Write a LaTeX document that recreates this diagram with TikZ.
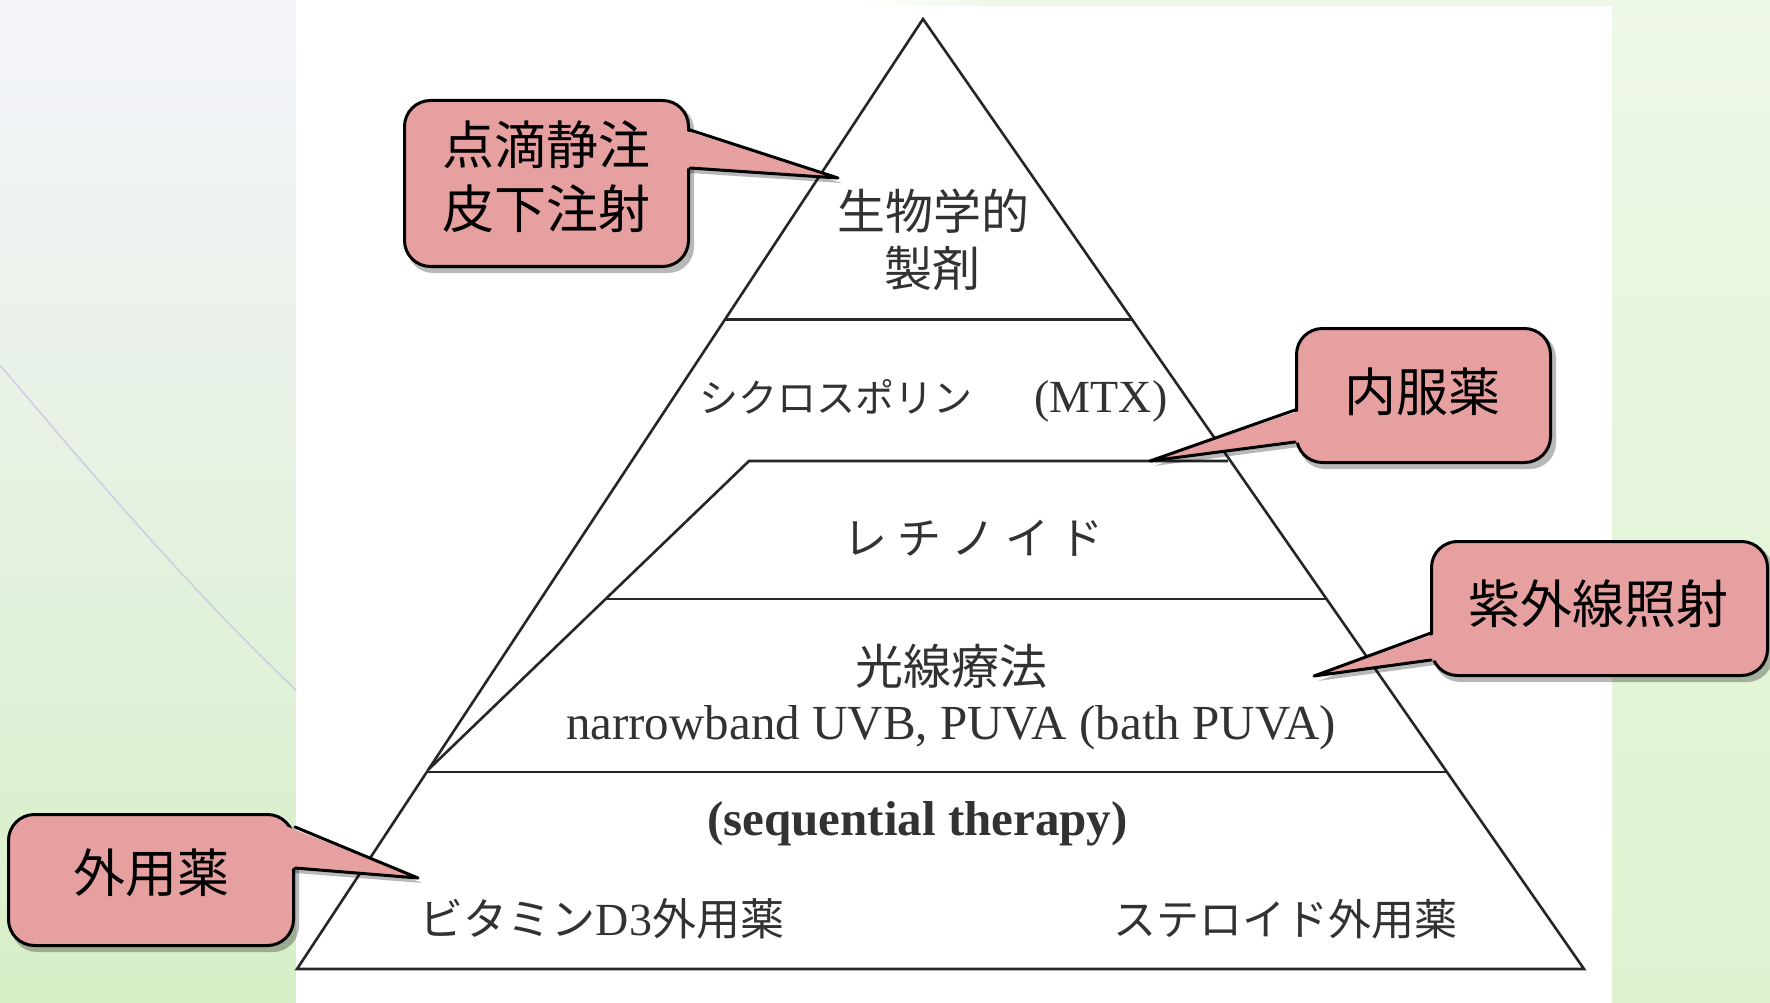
\documentclass[tikz,border=0pt]{standalone}
\usepackage{fontspec}
\setmainfont{Liberation Serif}
\newfontfamily\jp{Noto Sans CJK JP}
\usetikzlibrary{calc}
\definecolor{pinkfill}{RGB}{231,160,160}
\definecolor{inkgray}{RGB}{50,50,50}
\definecolor{linegray}{RGB}{38,38,38}
\definecolor{bgtop}{RGB}{244,244,251}
\definecolor{bgmid}{RGB}{246,250,244}
\definecolor{bgbot}{RGB}{214,239,198}
\definecolor{bgrtop}{RGB}{238,248,230}
\definecolor{bgrbot}{RGB}{222,242,208}
\definecolor{curvec}{RGB}{205,205,228}
\begin{document}
\begin{tikzpicture}[x=1pt,y=-1pt,
  tri/.style={draw=linegray, line width=2.6pt, line join=miter},
  callbox/.style={draw=black, line width=3pt, fill=pinkfill, rounded corners=26pt, inner sep=0pt},
  shadowfill/.style={fill=black, opacity=0.28},
  ptrline/.style={draw=black, line width=3pt, line join=round, line cap=round},
  trijp/.style={inner sep=0pt, anchor=base, text=inkgray, font=\jp},
  trilat/.style={inner sep=0pt, anchor=base, text=inkgray},
  caltext/.style={inner sep=0pt, anchor=base, text=black, font=\jp\fontsize{52}{60}\selectfont}
]
\useasboundingbox (0,0) rectangle (1770,1003);
% background
\shade[top color=bgtop, middle color=bgmid, bottom color=bgbot] (0,0) rectangle (296,1003);
\shade[top color=bgrtop, bottom color=bgrbot] (1612,0) rectangle (1770,1003);
\fill[white] (296,0) rectangle (1612,1003);
\shade[left color=white, right color=bgrtop] (860,0) rectangle (1000,6);
\fill[bgrtop] (1000,0) rectangle (1612,6);
\draw[curvec, line width=1.5pt] (0,365) .. controls (80,460) and (190,590) .. (296,690);

% pyramid
\coordinate (apex) at (923,19);
\coordinate (bl) at (297,969);
\coordinate (br) at (1584,969);
\draw[tri] (apex) -- (bl) -- (br) -- cycle;
\coordinate (l1a) at (725,319.5); \coordinate (l1b) at (1132,319.5);
\coordinate (l2a) at (749,461);   \coordinate (l2b) at (1228,461);
\coordinate (l3a) at (606,599);   \coordinate (l3b) at (1327,599);
\coordinate (l4a) at (427,772);   \coordinate (l4b) at (1447,772);
\coordinate (inb) at (429,769);
\draw[tri] (l1a) -- (l1b);
\draw[tri] (l2b) -- (l2a) -- (inb);
\draw[tri] (l3a) -- (l3b);
\draw[tri] (l4a) -- (l4b);

% pyramid texts
\node[trijp, font=\jp\fontsize{48}{56}\selectfont] (bio1) at (933,230) {生物学的};
\node[trijp, font=\jp\fontsize{48}{56}\selectfont] (bio2) at (932,287) {製剤};
\node[trilat] (cyc) at (933.5,412) {{\jp\fontsize{39}{46}\selectfont シクロスポリン}\hspace{62pt}{\fontsize{46}{54}\selectfont (MTX)}};
\node[trijp, font=\jp\fontsize{44}{52}\selectfont] (ret) at (973.5,554) {レ\hspace{10pt}チ\hspace{10pt}ノ\hspace{10pt}イ\hspace{10pt}ド};
\node[trijp, font=\jp\fontsize{48}{56}\selectfont] (photo) at (951.5,684) {光線療法};
\node[trilat, font=\fontsize{49}{56}\selectfont] (uvb) at (951,739) {narrowband UVB, PUVA (bath PUVA)};
\node[trilat, font=\bfseries\fontsize{49}{56}\selectfont] (seq) at (917.5,835) {(sequential therapy)};
\node[trilat] (vitd) at (602,935) {{\jp\fontsize{44}{52}\selectfont ビタミン}{\fontsize{46}{52}\selectfont D3}{\jp\fontsize{44}{52}\selectfont 外用薬}};
\node[trijp, font=\jp\fontsize{43}{52}\selectfont] (ster) at (1285,935) {ステロイド外用薬};

% callout geometry
\coordinate (b1u) at (690,130);  \coordinate (b1l) at (690,168);  \coordinate (tip1) at (838,178);
\coordinate (b2u) at (1295,410); \coordinate (b2l) at (1295,442); \coordinate (tip2) at (1150,461);
\coordinate (b3u) at (1431,633); \coordinate (b3l) at (1431,660); \coordinate (tip3) at (1314,676);
\coordinate (b4u) at (295,827);  \coordinate (b4l) at (295,868);  \coordinate (tip4) at (418,878);

% shadows
\fill[shadowfill, rounded corners=26pt] (407,104) rectangle (694,273);
\fill[shadowfill] ($(b1u)+(0,5)$) -- ($(tip1)+(4,5)$) -- ($(b1l)+(0,5)$) -- cycle;
\fill[shadowfill, rounded corners=26pt] (1299,332) rectangle (1556,469);
\fill[shadowfill] ($(b2u)+(4,5)$) -- ($(tip2)+(4,5)$) -- ($(b2l)+(4,5)$) -- cycle;
\fill[shadowfill, rounded corners=26pt] (1434,545) rectangle (1773,682);
\fill[shadowfill] ($(b3u)+(4,5)$) -- ($(tip3)+(4,5)$) -- ($(b3l)+(4,5)$) -- cycle;
\fill[shadowfill, rounded corners=26pt] (11,818) rectangle (299,952);
\fill[shadowfill] ($(b4u)+(0,5)$) -- ($(tip4)+(4,5)$) -- ($(b4l)+(0,5)$) -- cycle;

% callout boxes
\node[callbox, minimum width=284pt, minimum height=166pt] (c1) at (546.5,183.5) {};
\node[callbox, minimum width=254pt, minimum height=134pt] (c2) at (1423.5,395.5) {};
\node[callbox, minimum width=336pt, minimum height=134pt] (c3) at (1599.5,608.5) {};
\node[callbox, minimum width=285pt, minimum height=131pt] (c4) at (151,880) {};

% pointers
\fill[pinkfill] ($(b1u)+(-7,0)$) -- (tip1) -- ($(b1l)+(-7,0)$) -- cycle;
\draw[ptrline] (b1u) -- (tip1) -- (b1l);
\fill[pinkfill] ($(b2u)+(7,0)$) -- (tip2) -- ($(b2l)+(7,0)$) -- cycle;
\draw[ptrline] (b2u) -- (tip2) -- (b2l);
\fill[pinkfill] ($(b3u)+(7,0)$) -- (tip3) -- ($(b3l)+(7,0)$) -- cycle;
\draw[ptrline] (b3u) -- (tip3) -- (b3l);
\fill[pinkfill] ($(b4u)+(-7,0)$) -- (tip4) -- ($(b4l)+(-7,0)$) -- cycle;
\draw[ptrline] (b4u) -- (tip4) -- (b4l);

% callout texts
\node[caltext] (t1a) at (546,165) {点滴静注};
\node[caltext] (t1b) at (546,229) {皮下注射};
\node[caltext] (t2) at (1422,411) {内服薬};
\node[caltext] (t3) at (1598,623) {紫外線照射};
\node[caltext] (t4) at (151,892) {外用薬};
\end{tikzpicture}
\end{document}
